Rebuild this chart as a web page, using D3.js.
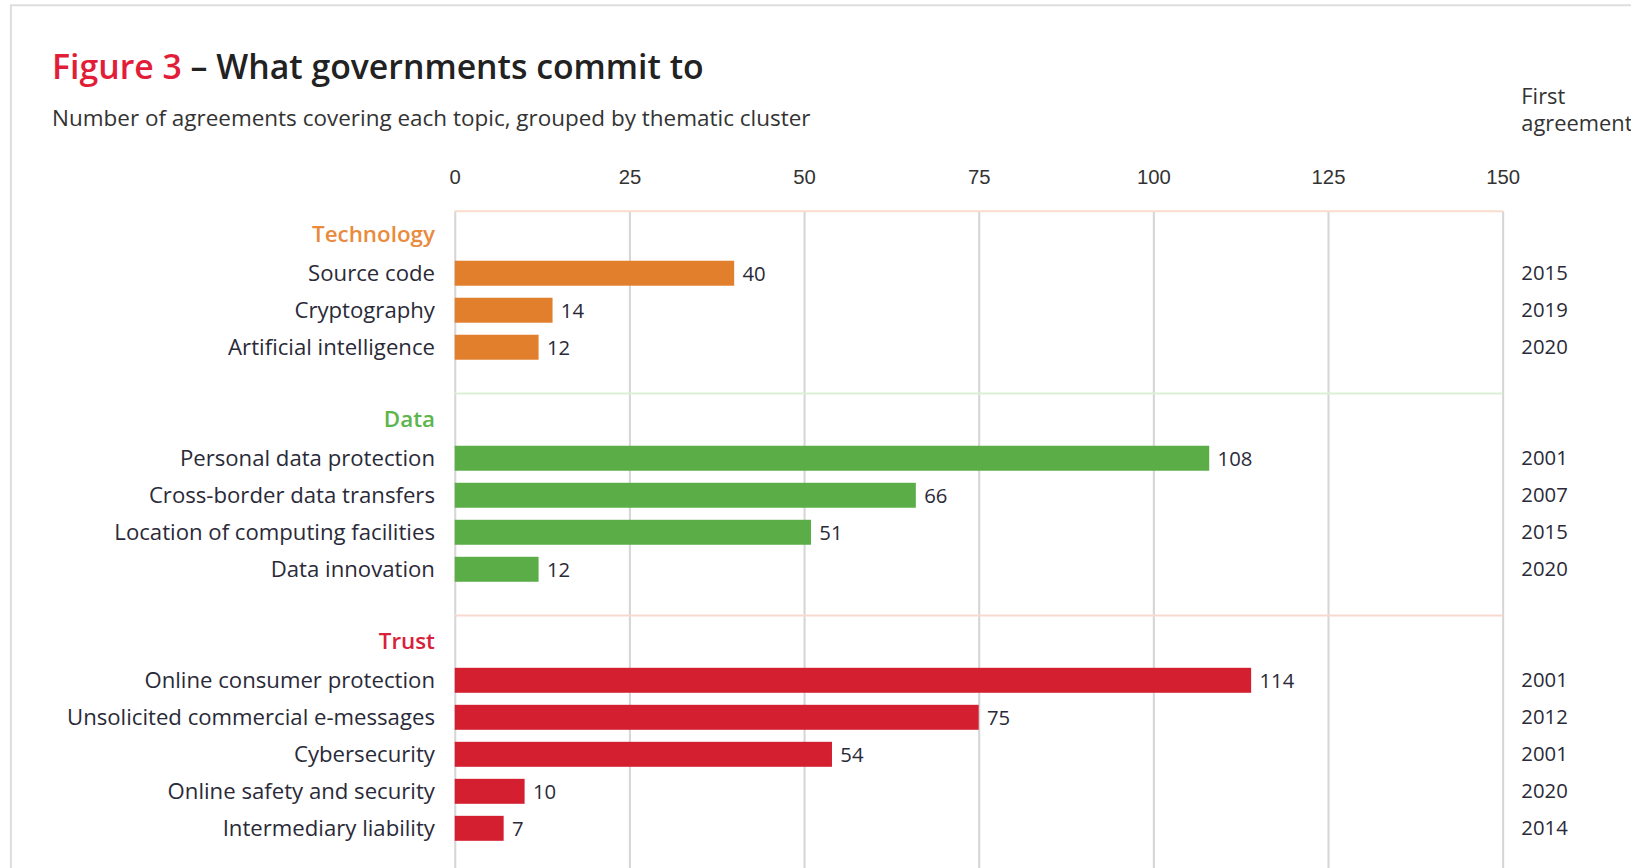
<!DOCTYPE html>
<html lang="en">
<head>
<meta charset="UTF-8">
<title>Figure 3</title>
<script src="https://cdn.jsdelivr.net/npm/d3@7"></script>
<style>
  body { margin: 0; background: #fff; }
  svg { display: block; font-family: "Open Sans", "Noto Sans", sans-serif; }
  .grid line { stroke: #d6d6d6; stroke-width: 2; }
  .axis text { fill: #333; font-size: 19.5px; }
</style>
</head>
<body>
<div id="chart"></div>
<script>
// clusters and topics
var groups = ["Technology", "Data", "Trust"];
var topics = [
  "Source code", "Cryptography", "Artificial intelligence",
  "Personal data protection", "Cross-border data transfers", "Location of computing facilities", "Data innovation",
  "Online consumer protection", "Unsolicited commercial e-messages", "Cybersecurity", "Online safety and security", "Intermediary liability"
];
var topicGroup = [
  "Technology", "Technology", "Technology",
  "Data", "Data", "Data", "Data",
  "Trust", "Trust", "Trust", "Trust", "Trust"
];
var counts = [40, 14, 12, 108, 66, 51, 12, 114, 75, 54, 10, 7];
var firstYear = [2015, 2019, 2020, 2001, 2007, 2015, 2020, 2001, 2012, 2001, 2020, 2014];
var tickValues = [0, 25, 50, 75, 100, 125, 150];

var barColor = { Technology: "#e17f2d", Data: "#5aad47", Trust: "#d41f31" };
var headColor = { Technology: "#ea8a3c", Data: "#5cb64b", Trust: "#d8213a" };
var sepColor = { Data: "#dcefd6", Trust: "#f7d9cf" };

var w = 1631, h = 868;
var k = 1.0406; // layout drawn in a 1568-wide frame, scaled up

var svg = d3.select("#chart").append("svg")
  .attr("width", w)
  .attr("height", h);

var root = svg.append("g").attr("transform", "scale(" + k + ")");
var W = w / k, H = h / k;

// page frame
root.append("path")
  .attr("d", "M10.5," + (H + 5) + "V5H" + (W + 5))
  .attr("fill", "none")
  .attr("stroke", "#dedede")
  .attr("stroke-width", 2);

// title
var title = root.append("text")
  .attr("x", 50)
  .attr("y", 76)
  .attr("font-size", "32.5px")
  .attr("font-weight", 600);
title.append("tspan").attr("fill", "#e21d38").text("Figure 3");
title.append("tspan").attr("fill", "#222").text(" \u2013 What governments commit to");

root.append("text")
  .attr("x", 50)
  .attr("y", 121)
  .attr("font-size", "21.6px")
  .attr("fill", "#333")
  .text("Number of agreements covering each topic, grouped by thematic cluster");

var head = root.append("text")
  .attr("x", 1462)
  .attr("y", 100)
  .attr("font-size", "21px")
  .attr("fill", "#333");
head.append("tspan").attr("x", 1462).text("First");
head.append("tspan").attr("x", 1462).attr("dy", 26).text("agreement");

// row slots: header, topics, gap
var slots = [];
groups.forEach(function (g, gi) {
  slots.push("h:" + g);
  topics.forEach(function (t, i) { if (topicGroup[i] === g) slots.push("t:" + t); });
  if (gi < groups.length - 1) slots.push("gap:" + g);
});

var yScale = d3.scalePoint()
  .domain(slots)
  .range([227, 796]);
var step = yScale.step();

var xScale = d3.scaleLinear()
  .domain([0, 150])
  .range([437, 1444]);

var plotTop = yScale("h:Technology") - 24;
var plotBottom = H + 10;

// grid
root.append("g")
  .attr("class", "grid")
  .attr("transform", "translate(0," + plotTop + ")")
  .call(d3.axisBottom(xScale).tickValues(tickValues).tickSize(plotBottom - plotTop).tickFormat(""))
  .call(function (g) { g.select(".domain").remove(); });

// top border and separators
root.append("line")
  .attr("x1", xScale(0)).attr("x2", xScale(150))
  .attr("y1", plotTop).attr("y2", plotTop)
  .attr("stroke", "#f9dccb").attr("stroke-width", 2);

groups.slice(0, -1).forEach(function (g, gi) {
  var y = yScale("gap:" + g) + step * 0.25;
  root.append("line")
    .attr("x1", xScale(0)).attr("x2", xScale(150))
    .attr("y1", y).attr("y2", y)
    .attr("stroke", sepColor[groups[gi + 1]]).attr("stroke-width", 2);
});

// axis labels on top
root.append("g")
  .attr("class", "axis")
  .attr("transform", "translate(0,177)")
  .call(d3.axisTop(xScale).tickValues(tickValues).tickSize(0).tickPadding(0))
  .call(function (g) { g.select(".domain").remove(); });

// cluster headers
root.selectAll(".ghead").data(groups).enter().append("text")
  .attr("class", "ghead")
  .attr("x", 418)
  .attr("y", function (d) { return yScale("h:" + d) - 2; })
  .attr("dy", "0.35em")
  .attr("text-anchor", "end")
  .attr("font-size", "21.5px")
  .attr("font-weight", 600)
  .attr("fill", function (d) { return headColor[d]; })
  .text(function (d) { return d; });

var barH = 24;

// topic labels
root.selectAll(".tlabel").data(topics).enter().append("text")
  .attr("class", "tlabel")
  .attr("x", 418)
  .attr("y", function (d) { return yScale("t:" + d); })
  .attr("dy", "0.35em")
  .attr("text-anchor", "end")
  .attr("font-size", "21.3px")
  .attr("fill", "#2a2a38")
  .text(function (d) { return d; });

// bars
root.selectAll(".bar").data(topics).enter().append("rect")
  .attr("class", "bar")
  .attr("x", xScale(0))
  .attr("y", function (d) { return yScale("t:" + d) - barH / 2; })
  .attr("width", function (d, i) { return xScale(counts[i]) - xScale(0); })
  .attr("height", barH)
  .attr("fill", function (d, i) { return barColor[topicGroup[i]]; });

// value labels
root.selectAll(".val").data(topics).enter().append("text")
  .attr("class", "val")
  .attr("x", function (d, i) { return xScale(counts[i]) + 8; })
  .attr("y", function (d) { return yScale("t:" + d) + 1; })
  .attr("dy", "0.35em")
  .attr("font-size", "19.5px")
  .attr("fill", "#2a2a38")
  .text(function (d, i) { return counts[i]; });

// first agreement years
root.selectAll(".year").data(topics).enter().append("text")
  .attr("class", "year")
  .attr("x", 1462)
  .attr("y", function (d) { return yScale("t:" + d); })
  .attr("dy", "0.35em")
  .attr("font-size", "19.5px")
  .attr("fill", "#2a2a38")
  .text(function (d, i) { return firstYear[i]; });
</script>
</body>
</html>
